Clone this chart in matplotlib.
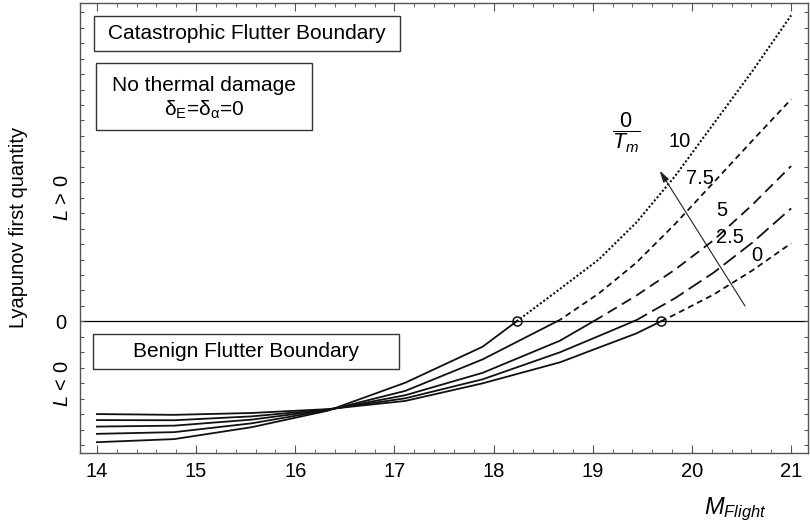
import numpy as np
import matplotlib
matplotlib.use('Agg')
import matplotlib.pyplot as plt
from matplotlib.patches import Rectangle

plt.rcParams['font.family'] = ['Liberation Sans', 'DejaVu Sans']
plt.rcParams['mathtext.fontset'] = 'custom'
plt.rcParams['mathtext.rm'] = 'Liberation Sans'
plt.rcParams['mathtext.it'] = 'Liberation Sans:italic'

# flight Mach numbers of the computed cases
mach = [14.0, 14.78, 15.56, 16.33, 17.11, 17.89, 18.67, 19.06, 19.44, 19.83,
        20.22, 20.61, 21.0]

# first Lyapunov quantity for each temperature ratio
L_t0 = [-6.00, -6.05, -5.93, -5.68, -5.15, -4.01, -2.65, -1.70, -0.78, 0.45,
        1.74, 3.30, 5.05]
L_t25 = [-6.39, -6.40, -6.15, -5.70, -4.98, -3.75, -2.00, -0.95, 0.08, 1.50,
         3.16, 5.10, 7.31]
L_t5 = [-6.81, -6.75, -6.36, -5.72, -4.78, -3.33, -1.25, 0.20, 1.67, 3.35,
        5.26, 7.55, 10.05]
L_t75 = [-7.28, -7.17, -6.60, -5.75, -4.50, -2.46, 0.10, 1.80, 3.80, 6.30,
         9.00, 11.70, 14.37]
L_t10 = [-7.82, -7.62, -6.85, -5.78, -3.97, -1.64, 2.10, 4.00, 6.40, 9.40,
         12.80, 16.20, 19.80]

ratio_labels = ['0', '2.5', '5', '7.5', '10']
label_pos = [(20.65, 4.23), (20.38, 5.44), (20.30, 7.2), (20.08, 9.26), (19.88, 11.62)]

curves = [L_t0, L_t25, L_t5, L_t75, L_t10]
widths = [1.3, 1.3, 1.3, 1.3, 1.5]
dashes = [(3.3, 2.3), (8.5, 3.3), (5.9, 3.3), (3.3, 2.3), (1.0, 1.0)]
mark_crossing = [True, False, False, False, True]

fig, ax = plt.subplots(figsize=(8.1, 5.25), dpi=100)
fig.subplots_adjust(left=80/810, right=808/810, bottom=(525-452.7)/525, top=(525-3)/525)

ax.axhline(0, color='black', lw=0.9, zorder=1)

for L, lw, dash, mark in zip(curves, widths, dashes, mark_crossing):
    M = np.array(mach)
    L = np.array(L)
    i = int(np.argmax(L > 0))
    # where the curve passes L = 0: stable (solid) below, unstable (dashed) above
    m0 = M[i-1] + (0 - L[i-1]) * (M[i] - M[i-1]) / (L[i] - L[i-1])
    ax.plot(np.r_[M[:i], m0], np.r_[L[:i], 0], color='#111111', lw=1.3,
            solid_joinstyle='miter')
    ax.plot(np.r_[m0, M[i:]], np.r_[0, L[i:]], color='#111111', lw=lw,
            linestyle=(0, dash))
    if mark:
        ax.plot(m0, 0, 'o', mfc='none', mec='#111111', mew=1.1, ms=6.5, zorder=5)

for txt, (x, y) in zip(ratio_labels, label_pos):
    ax.text(x, y, txt, fontsize=14.5, ha='center', va='center')

ax.text(19.34, 12.17, r'$\dfrac{0}{T_m}$', fontsize=15.5, ha='center', va='center')
ax.annotate('', xy=(19.66, 9.9), xytext=(20.55, 0.84),
            arrowprops=dict(arrowstyle='-|>, head_length=0.7, head_width=0.2',
                            lw=0.8, color='#222222'))

# boxed notes
boxes = [
    ((0.0196, 0.893), 0.42, 0.078),
    ((0.022, 0.7176), 0.296, 0.1496),
    ((0.0183, 0.1868), 0.4203, 0.0772),
]
for (x0, y0), w, h in boxes:
    ax.add_patch(Rectangle((x0, y0), w, h, transform=ax.transAxes, fill=False,
                           ec='#333333', lw=1.0, zorder=4))
ax.text(0.2297, 0.9322, 'Catastrophic Flutter Boundary', transform=ax.transAxes,
        fontsize=15, ha='center', va='center')
ax.text(0.170, 0.8176, 'No thermal damage', transform=ax.transAxes,
        fontsize=15, ha='center', va='center')
ax.text(0.170, 0.762, r'δ$_\mathrm{E}$=δ$_\mathrm{α}$=0', transform=ax.transAxes,
        fontsize=15, ha='center', va='center')
ax.text(0.2285, 0.2261, 'Benign Flutter Boundary', transform=ax.transAxes,
        fontsize=15, ha='center', va='center')

ax.set_xlim(13.83, 21.17)
ax.set_ylim(-8.5, 20.6)
ax.set_xticks(range(14, 22))
ax.set_xticks(np.arange(14, 21.01, 0.2), minor=True)
yt = list(range(-8, 21))
ax.set_yticks(yt)
ax.set_yticklabels(['0' if v == 0 else '' for v in yt])

ax.tick_params(which='both', direction='in', top=True, right=True,
               color='#555555', labelsize=14.5)
ax.tick_params(axis='x', which='major', length=5.5, pad=7)
ax.tick_params(axis='x', which='minor', length=3.2)
ax.tick_params(axis='y', which='major', length=3.2, pad=9.5)
for s in ax.spines.values():
    s.set_color('#555555')
    s.set_linewidth(1.0)

ax.set_ylabel('Lyapunov first quantity', fontsize=14.5)
ax.yaxis.set_label_coords(-0.071, 0.5)
trans = ax.get_yaxis_transform()
ax.text(-0.0247, 8.0, r'$L$ > 0', transform=trans, rotation=90,
        fontsize=14.5, ha='center', va='center')
ax.text(-0.0247, -4.06, r'$L$ < 0', transform=trans, rotation=90,
        fontsize=14.5, ha='center', va='center')

ax.set_xlabel(r'$M_{Flight}$', fontsize=17)
ax.xaxis.set_label_coords(0.9, -0.095)

fig.savefig('out.png', dpi=100)
